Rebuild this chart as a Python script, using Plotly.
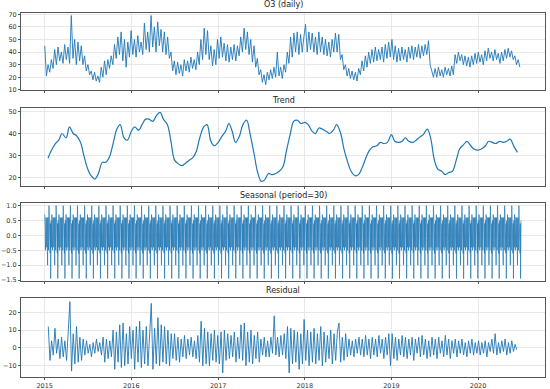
import plotly.graph_objects as go
import pandas as pd

# ---------------- data ----------------
# Observed O3, sampled weekly from 2015-01-01
observed = [
    45, 21, 30, 24, 34, 27, 42, 30, 44, 33, 40, 31, 46, 34, 44, 31, 69, 35, 50, 30,
    48, 33, 45, 30, 37, 25, 30, 22, 25, 18, 24, 17, 21, 16, 28, 20, 33, 22, 34, 27,
    37, 30, 46, 35, 52, 38, 56, 33, 50, 28, 48, 36,
    57, 38, 50, 36, 53, 40, 48, 38, 63, 42, 56, 40, 69, 44, 60, 40, 64, 45, 58, 40,
    56, 38, 52, 35, 40, 25, 33, 22, 32, 23, 30, 21, 34, 25, 33, 24, 36, 27, 34, 26,
    40, 30, 50, 34, 59, 38, 57, 34, 45, 29, 42, 30,
    50, 35, 52, 36, 47, 33, 46, 32, 44, 34, 46, 33, 45, 37, 52, 40, 59, 42, 56, 38,
    50, 32, 45, 28, 35, 22, 26, 16, 22, 14, 24, 18, 26, 19, 28, 20, 40, 21, 28, 19,
    30, 24, 40, 31, 52, 36, 55, 40, 56, 38, 54, 40,
    52, 62, 40, 56, 42, 55, 40, 52, 38, 56, 40, 52, 38, 50, 37, 48, 36, 50, 40, 55,
    40, 54, 34, 38, 26, 30, 21, 27, 19, 25, 18, 24, 17, 27, 22, 33, 25, 37, 28, 40,
    31, 42, 32, 44, 33, 42, 34, 44, 32, 46, 35, 48, 36,
    50, 34, 45, 32, 43, 33, 44, 34, 42, 32, 44, 35, 45, 34, 44, 36, 46, 35, 45, 37,
    46, 38, 49, 30, 24, 20, 27, 20, 28, 21, 26, 20, 28, 22, 27, 21, 29, 22, 38, 31,
    40, 33, 38, 30, 37, 29, 36, 28, 37, 30, 39, 31,
    40, 32, 38, 30, 41, 33, 43, 35, 40, 33, 42, 34, 39, 31, 40, 33, 42, 35, 43, 36,
    41, 34, 37, 30, 34, 28,
]

# Trend, sampled twice a month from mid-January 2015
trend = [
    29, 33, 35.5, 37, 40, 38, 43, 40, 39, 36, 30, 24, 21, 19.5, 22, 27, 27, 29.5, 35, 42, 44, 38, 37,
    41, 43, 41.5, 44, 46.5, 46.5, 45.5, 48, 49.5, 46.5, 44, 37, 28, 26.5, 25.5, 26.5, 28, 29, 32, 38, 43, 44, 36.5, 34.5,
    36, 38.5, 41, 44.5, 41, 36, 39, 44, 46, 40, 31, 23, 18.5, 19, 22, 21.5, 22, 23, 25, 32, 40, 45.5, 46, 44.5,
    45, 44, 41, 40, 42.5, 42, 41, 40, 41.5, 44, 40, 33, 27, 23, 21, 21.5, 25, 29, 32.5, 34, 34.5, 36, 35.5, 36,
    39.5, 36.5, 36, 36.5, 38, 36.5, 36, 37, 38.5, 39.5, 42, 38, 28, 24, 23, 21.5, 22.5, 23, 28, 33, 35, 36.5, 34.5, 33,
    32.5, 33, 34.5, 36.5, 36, 35.5, 36.5, 36, 36.5, 37.5, 34, 31.5,
]

# Seasonal component: one 30-day period (the component repeats it)
seasonal_period = [
    0.7, 0.6, 0.2, -0.5, 0.3, 0.6, -0.2, 0.5, -0.4, 0.1,
    0.6, -0.5, -1.0, 0.4, 0.6, 0.0, -0.5, 0.5, 1.0, 0.3,
    -0.3, 0.6, 0.2, -0.6, 0.4, -1.45, -0.2, 0.5, 0.0, -0.4,
]

# Residual, sampled weekly from 2015-01-16
residual = [
    12, -7, 4, -4, 11, -3, 5, -6, 6, -5, 4, -7, 9, 26, -13, 8, -9, 12, -8, 6,
    -7, 5, -4, 4, -3, 2, -5, 3, -3, 5, -2, 3, -4, 6, -8, 5, -6, 4, -5, 10,
    -12, 9, -8, 13, -11, 14, -10, 8, -9, 12, -6,
    10, -12, 12, -8, 15, -11, 10, -9, 12, -10, 8, 25, -12, 11, -9, 17, -10, 13, -8, 12,
    -9, 10, -10, 8, -6, 8, -7, 6, -8, 5, -5, 7, -6, 5, -4, 6, -5, 4, -6, 7,
    -8, 15, -10, 11, -9, 9, -10, 8, -7, 10, -8, 7,
    -9, 9, -14, 10, -7, 8, -6, 7, -5, 9, -8, 6, -6, 13, -7, 14, -10, 9, -8, 10,
    -9, 7, -6, 9, -8, 5, -4, 6, -5, 4, -5, 6, -3, 18, -4, 6, -5, 7, -4, 8,
    -6, 12, -14, 11, -9, 10, -8, 9, -12, 8, -9, 16,
    -7, 10, -10, 9, -8, 11, -9, 8, -7, 12, -10, 9, -8, 7, -6, 10, -9, 8, -7, 9,
    14, -8, 6, -7, 8, -5, 5, -4, 4, -5, 5, -3, 6, -4, 5, -5, 7, -4, 5, -6,
    6, -4, 5, -5, 7, -3, 5, -6, 6, -4, 8, -10,
    8, -6, 6, -7, 5, -4, 7, -5, 6, -6, 5, -4, 6, -7, 5, -3, 6, -5, 7, -4,
    5, -6, 4, -5, 6, -4, 5, -6, 6, -3, 4, -5, 7, -4, 5, -6, 4, -3, 5, -5,
    4, -3, 5, -4, 3, -5, 4, -3, 5, -4, 3, -3, 4,
    -4, 3, -3, 4, -5, 3, -2, 5, -3, 8, -4, 3, -3, 4, -2, 5, -4, 3, -3, 4,
    -2, 2, -1,
]

panel_titles = ["O3 (daily)", "Trend", "Seasonal (period=30)", "Residual"]
year_ticks = ["2015-01-01", "2016-01-01", "2017-01-01", "2018-01-01", "2019-01-01", "2020-01-01"]
year_labels = ["2015", "2016", "2017", "2018", "2019", "2020"]

# ---------------- build x values ----------------
obs_dates = pd.date_range("2015-01-01", periods=len(observed), freq="7D")
trend_dates = pd.date_range("2015-01-15", periods=len(trend), freq="SMS")
day_dates = pd.date_range("2015-01-01", "2020-06-30", freq="D")
reps = len(day_dates) // len(seasonal_period) + 1
seasonal = (seasonal_period * reps)[: len(day_dates)]
res_dates = pd.date_range("2015-01-16", periods=len(residual), freq="7D")

LINE = dict(color="#1f77b4", width=0.9)
fig = go.Figure()
fig.add_trace(go.Scatter(x=obs_dates, y=observed, mode="lines", line=LINE, xaxis="x", yaxis="y"))
fig.add_trace(go.Scatter(x=trend_dates, y=trend, mode="lines", line=dict(color="#1f77b4", width=1.2),
                         line_shape="spline", xaxis="x2", yaxis="y2"))
fig.add_trace(go.Scatter(x=day_dates, y=seasonal, mode="lines", line=dict(color="#1f77b4", width=0.7),
                         xaxis="x3", yaxis="y3"))
fig.add_trace(go.Scatter(x=res_dates, y=residual, mode="lines", line=LINE, xaxis="x4", yaxis="y4"))

domains = [[0.788, 1.0], [0.525, 0.739], [0.264, 0.478], [0.0, 0.217]]
yranges = [[9.76, 71.0], [16.4, 51.5], [-1.53, 1.09], [-16.3, 28.0]]
ytickvals = [[10, 20, 30, 40, 50, 60, 70], [20, 30, 40, 50],
             [-1.5, -1.0, -0.5, 0.0, 0.5, 1.0], [-10, 0, 10, 20]]
xrange_ = ["2014-09-23", "2020-10-09"]

FONT = dict(family="DejaVu Sans", size=6.5, color="#333333")
axis_common = dict(showline=True, linecolor="#555555", linewidth=1, mirror=True,
                   ticks="outside", ticklen=2, tickcolor="#555555",
                   showgrid=True, gridcolor="#e8e8e8", gridwidth=1, zeroline=False,
                   tickfont=FONT, automargin=False)

layout = dict(width=550, height=389, margin=dict(l=21, r=5, t=13, b=12),
              paper_bgcolor="white", plot_bgcolor="white", showlegend=False,
              font=FONT)
for i in range(4):
    n = "" if i == 0 else str(i + 1)
    layout["xaxis" + n] = dict(axis_common, domain=[0, 1], anchor="y" + n, type="date",
                               range=xrange_, tickvals=year_ticks, ticktext=year_labels,
                               showticklabels=(i == 3))
    ytf = ".1f" if i == 2 else "d"
    layout["yaxis" + n] = dict(axis_common, domain=domains[i], anchor="x" + n,
                               range=yranges[i], tickvals=ytickvals[i], tickformat=ytf)
fig.update_layout(**layout)

for i, t in enumerate(panel_titles):
    fig.add_annotation(text=t, xref="paper", yref="paper", x=0.5, y=domains[i][1],
                       yshift=1.5, xanchor="center", yanchor="bottom", showarrow=False,
                       font=dict(family="DejaVu Sans", size=8, color="#222222"))

fig.write_html("out.html", config={"displayModeBar": False},
               post_script="document.body.style.margin='0px';document.body.style.overflow='hidden';")
